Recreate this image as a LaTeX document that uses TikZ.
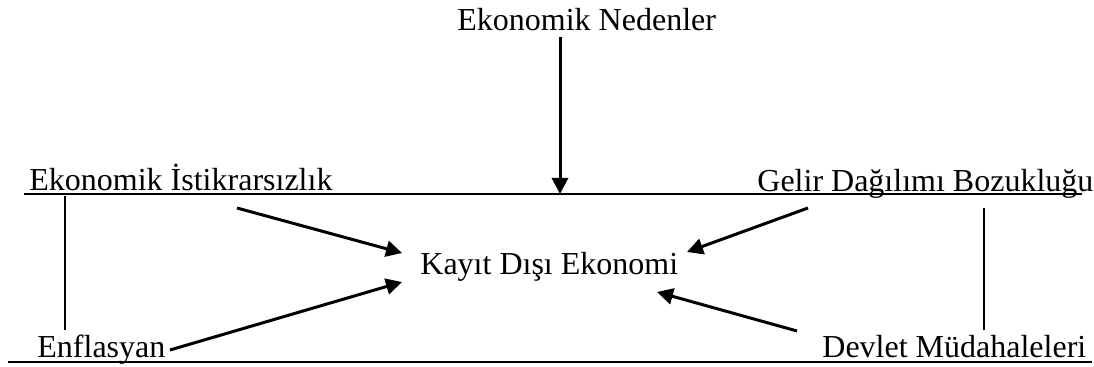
\documentclass[tikz,border=0pt]{standalone}
\usepackage{fontspec}
\setmainfont{Liberation Serif}
\usetikzlibrary{arrows.meta,positioning,calc}

\begin{document}
\begin{tikzpicture}[x=0.5pt,y=-0.5pt,
	lbl/.style={anchor=base west,inner sep=0pt,font=\fontsize{16}{19}\selectfont},
	arr/.style={line width=1.5pt,-{Triangle[length=8pt,width=8pt]}},
	rule/.style={line width=1pt}]
	\useasboundingbox (0,0) rectangle (1094,367);

	% labels
	\node[lbl] (neden) at (457,31) {Ekonomik Nedenler};
	\node[lbl] (istik) at (29,191) {Ekonomik İstikrarsızlık};
	\node[lbl] (gelir) at (757,192) {Gelir Dağılımı Bozukluğu};
	\node[lbl] (kdek) at (420,275) {Kayıt Dışı Ekonomi};
	\node[lbl] (enf) at (37,358) {Enflasyan};
	\node[lbl] (devlet) at (822,358) {Devlet Müdahaleleri};

	% rules under the rows
	\coordinate (ust1) at (24,194);
	\coordinate (ust2) at (1082,194);
	\coordinate (alt1) at (8,362);
	\coordinate (alt2) at (1092,362);
	\draw[rule] (ust1) -- (ust2);
	\draw[rule] (alt1) -- (alt2);

	% vertical links
	\coordinate (sol1) at (65,196);
	\coordinate (sol2) at (65,330);
	\coordinate (sag1) at (984,208);
	\coordinate (sag2) at (984,330);
	\draw[rule] (sol1) -- (sol2);
	\draw[rule] (sag1) -- (sag2);

	% arrows
	\coordinate (n1) at (560,37);
	\coordinate (n2) at (560,194);
	\draw[arr] (n1) -- (n2);

	\coordinate (i1) at (237,208);
	\coordinate (i2) at (402,253);
	\draw[arr] (i1) -- (i2);

	\coordinate (e1) at (170,350);
	\coordinate (e2) at (402,282);
	\draw[arr] (e1) -- (e2);

	\coordinate (g1) at (808,208);
	\coordinate (g2) at (687,252);
	\draw[arr] (g1) -- (g2);

	\coordinate (d1) at (797,331);
	\coordinate (d2) at (657,292);
	\draw[arr] (d1) -- (d2);
\end{tikzpicture}
\end{document}
